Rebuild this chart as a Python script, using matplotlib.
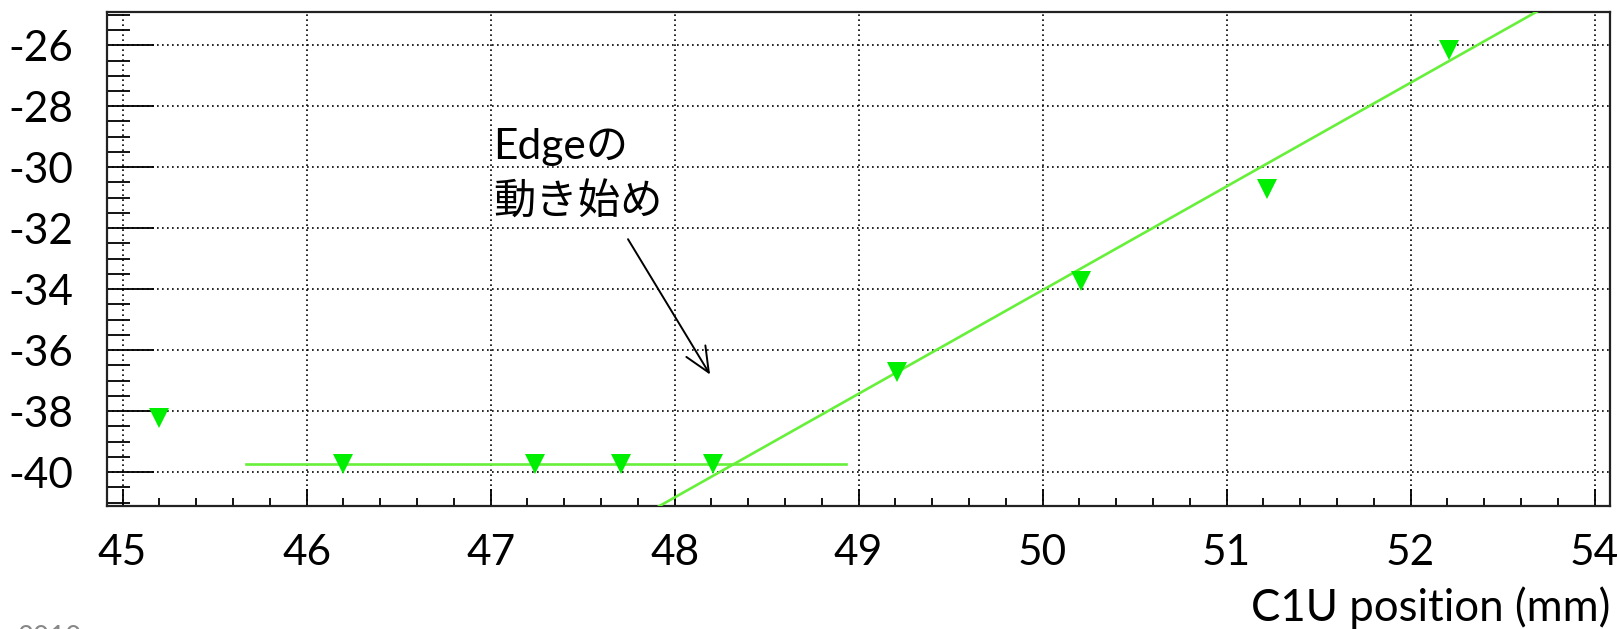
import numpy as np
import matplotlib
matplotlib.use("Agg")
import matplotlib.pyplot as plt
from matplotlib.ticker import FixedLocator, MultipleLocator

# Measured edge response vs. C1U position
positions = [45.20, 46.20, 47.24, 47.71, 48.21, 49.21, 50.21, 51.22, 52.21]
response = [-38.21, -39.73, -39.74, -39.74, -39.74, -36.72, -33.74, -30.71, -26.14]

# Fit results: flat region and linear rise
flat_level = -39.74
flat_range = (45.67, 48.93)
rise_slope = 3.40
rise_intercept = -204.03
rise_range = (47.5, 53.2)

x_ticks = [45, 46, 47, 48, 49, 50, 51, 52, 53]
x_tick_labels = ["45", "46", "47", "48", "49", "50", "51", "52", "54"]
y_ticks = [-40, -38, -36, -34, -32, -30, -28, -26]
y_tick_labels = ["-40", "-38", "-36", "-34", "-32", "-30", "-28", "-26"]

FONT = ["Lato", "Noto Sans CJK JP", "DejaVu Sans"]
plt.rcParams["font.family"] = FONT

fig = plt.figure(figsize=(16.2, 6.29), dpi=100)
ax = fig.add_axes([0.0659, 0.1955, 0.9938 - 0.0659, 0.9804 - 0.1955])
ax.set_xlim(44.914, 53.084)
ax.set_ylim(-41.11, -24.92)

# dotted grid at major ticks
ax.xaxis.set_major_locator(FixedLocator(x_ticks))
ax.yaxis.set_major_locator(FixedLocator(y_ticks))
ax.xaxis.set_minor_locator(MultipleLocator(0.2))
ax.yaxis.set_minor_locator(MultipleLocator(0.5))
ax.set_xticklabels(x_tick_labels)
ax.set_yticklabels(y_tick_labels)
ax.grid(True, which="major", color="black", linestyle=(0, (1, 2.0)), linewidth=1.2)
ax.set_axisbelow(True)

ax.tick_params(axis="x", which="major", direction="in", length=12, width=1.3,
               labelsize=30.5, pad=20, top=False)
ax.tick_params(axis="x", which="minor", direction="in", length=6, width=1.3, top=False)
ax.tick_params(axis="y", which="major", direction="in", length=34, width=1.3,
               labelsize=30.5, pad=24, right=False)
ax.tick_params(axis="y", which="minor", direction="in", length=16.5, width=1.3, right=False)

for s in ax.spines.values():
    s.set_linewidth(1.6)
    s.set_color("#222222")

# fit lines
xf = np.linspace(*flat_range, 2)
ax.plot(xf, np.full_like(xf, flat_level), color="#66f03a", lw=1.9, zorder=3)
xr = np.linspace(*rise_range, 2)
ax.plot(xr, rise_intercept + rise_slope * xr, color="#66f03a", lw=1.9, zorder=3)

# data points
ax.plot(positions, response, linestyle="none", marker="v", ms=14,
        color="#00ee00", markeredgewidth=0, zorder=4)

# annotation
ax.text(47.014, -29.73, "Edgeの", fontsize=30.5, va="baseline", ha="left", family=FONT)
ax.text(47.014, -31.54, "動き始め", fontsize=30.5, va="baseline", ha="left", family=FONT)
ax.annotate("", xy=(48.193, -36.80), xytext=(47.747, -32.36),
            arrowprops=dict(arrowstyle="->,head_length=0.9,head_width=0.4",
                            color="black", lw=1.4, mutation_scale=20,
                            shrinkA=0, shrinkB=0))

fig.text(0.9938, 0.0135, "C1U position (mm)", fontsize=31.5, ha="right", va="baseline")
fig.text(0.011, 0.006, "2010", fontsize=20, color="#888888", ha="left", va="top")

fig.savefig("out.png", dpi=100)
